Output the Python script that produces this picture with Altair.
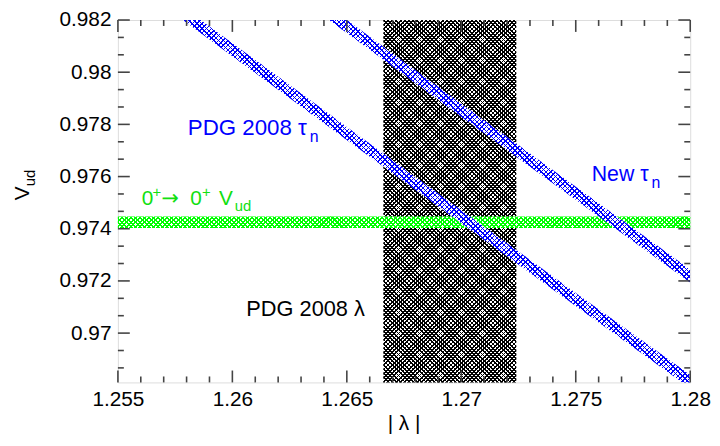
import math
import altair as alt
import pandas as pd

# ---------------- data ----------------
lam = [1.255, 1.26, 1.265, 1.27, 1.275, 1.28]
# PDG 2008 tau_n band (lower / upper edge of V_ud)
pdg_lo = [0.98383, 0.98061, 0.97740, 0.97421, 0.97104, 0.96789]
pdg_hi = [0.98433, 0.98111, 0.97790, 0.97471, 0.97154, 0.96839]
# New tau_n band
new_lo = [0.98795, 0.98471, 0.98150, 0.97829, 0.97511, 0.97194]
new_hi = [0.98845, 0.98521, 0.98200, 0.97879, 0.97561, 0.97244]
# PDG 2008 lambda band
lam_band = [1.2666, 1.2724]
# 0+ -> 0+ Vud band
vud_band = [0.97403, 0.97447]

x_dom = [1.255, 1.28]
y_dom = [0.96811, 0.982]

x_major = [1.255, 1.26, 1.265, 1.27, 1.275, 1.28]
x_minor = [1.256, 1.257, 1.258, 1.259, 1.261, 1.262, 1.263, 1.264,
           1.266, 1.267, 1.268, 1.269, 1.271, 1.272, 1.273, 1.274,
           1.276, 1.277, 1.278, 1.279]
y_major = [0.97, 0.972, 0.974, 0.976, 0.978, 0.98, 0.982]
y_minor = [0.968667, 0.969333, 0.970667, 0.971333, 0.972667, 0.973333,
           0.974667, 0.975333, 0.976667, 0.977333, 0.978667, 0.979333,
           0.980667, 0.981333]

# ---------------- layout ----------------
W, H = 578, 366
FONT = "Liberation Sans"
XSPAN = x_dom[1] - x_dom[0]
YSPAN = y_dom[1] - y_dom[0]

xs = alt.Scale(domain=x_dom, nice=False, zero=False)
ys = alt.Scale(domain=y_dom, nice=False, zero=False)

x_axis = alt.Axis(values=x_major, format="~g", labelFontSize=21, labelFont=FONT,
                  labelColor="black", ticks=False, tickSize=0, domain=False, grid=False,
                  labelPadding=6, labelFlush=False, labelOverlap=False, title=None)
y_axis = alt.Axis(values=y_major, format="~g", labelFontSize=21, labelFont=FONT,
                  labelColor="black", ticks=False, tickSize=0, domain=False, grid=False,
                  labelPadding=7, labelOverlap=False, title=None)


# ---------------- hatch fills (cross-hatch via striped gradients) ----------------
def hatch(w, h, period, duty, color, gap, direction):
    dt = period * math.sqrt(2) / (w + h)
    stops = []
    k = 0
    while k * dt < 1:
        a = k * dt
        b = min(a + duty * dt, 1)
        c = min((k + 1) * dt, 1)
        stops += [alt.GradientStop(offset=a, color=color),
                  alt.GradientStop(offset=b, color=color),
                  alt.GradientStop(offset=b, color=gap),
                  alt.GradientStop(offset=c, color=gap)]
        k += 1
    s = (w + h) / (w * w + h * h)
    if direction == 1:
        return alt.LinearGradient(gradient="linear", stops=stops,
                                  x1=0, y1=0, x2=w * s, y2=h * s)
    return alt.LinearGradient(gradient="linear", stops=stops,
                              x1=0, y1=1, x2=w * s, y2=1 - h * s)


df_lam = pd.DataFrame({"x0": [lam_band[0]], "x1": [lam_band[1]],
                       "y0": [y_dom[0]], "y1": [y_dom[1]]})
df_vud = pd.DataFrame({"x0": [x_dom[0]], "x1": [x_dom[1]],
                       "y0": [vud_band[0]], "y1": [vud_band[1]]})
df_pdg = pd.DataFrame({"lam": lam, "lo": pdg_lo, "hi": pdg_hi})
df_new = pd.DataFrame({"lam": lam, "lo": new_lo, "hi": new_hi})

# black lambda band
bw = (lam_band[1] - lam_band[0]) / XSPAN * W
bh = H
black1 = alt.Chart(df_lam).mark_rect(
    fill=hatch(bw, bh, 3.0, 0.42, "#000000", "#ffffff", 1)).encode(
    x=alt.X("x0:Q", scale=xs, axis=x_axis), x2="x1",
    y=alt.Y("y0:Q", scale=ys, axis=y_axis), y2="y1")
black2 = alt.Chart(df_lam).mark_rect(
    fill=hatch(bw, bh, 3.0, 0.42, "#000000", "transparent", 2)).encode(
    x=alt.X("x0:Q", scale=xs), x2="x1",
    y=alt.Y("y0:Q", scale=ys), y2="y1")

# green Vud band
gw = W
gh = (vud_band[1] - vud_band[0]) / YSPAN * H
GREEN = "#00ff00"
green1 = alt.Chart(df_vud).mark_rect(
    fill=hatch(gw, gh, 3.2, 0.45, GREEN, "#ffffff", 1)).encode(
    x=alt.X("x0:Q", scale=xs), x2="x1",
    y=alt.Y("y0:Q", scale=ys), y2="y1")
green2 = alt.Chart(df_vud).mark_rect(
    fill=hatch(gw, gh, 3.2, 0.45, GREEN, "transparent", 2)).encode(
    x=alt.X("x0:Q", scale=xs), x2="x1",
    y=alt.Y("y0:Q", scale=ys), y2="y1")

# blue tau_n bands
BLUE = "#0000ff"


def band(df, lo, hi):
    w = W
    h = (max(hi) - min(lo)) / YSPAN * H
    layers = []
    for d, gap in ((1, "#ffffff"), (2, "transparent")):
        layers.append(alt.Chart(df).mark_area(
            fill=hatch(w, h, 3.4, 0.32, BLUE, gap, d), clip=True, interpolate="linear").encode(
            x=alt.X("lam:Q", scale=xs),
            y=alt.Y("lo:Q", scale=ys), y2="hi"))
    return layers[0] + layers[1]


pdg = band(df_pdg, pdg_lo, pdg_hi)
new = band(df_new, new_lo, new_hi)

# ---------------- inward ticks ----------------
TICK = "#444444"
dxM = pd.DataFrame({"v": x_major})
dxm = pd.DataFrame({"v": x_minor})
dyM = pd.DataFrame({"v": y_major})
dym = pd.DataFrame({"v": y_minor})


def xticks(df, L):
    b = alt.Chart(df).mark_rule(color=TICK, strokeWidth=1.6)
    bot = b.encode(x=alt.X("v:Q", scale=xs), y=alt.value(H), y2=alt.value(H - L))
    top = b.encode(x=alt.X("v:Q", scale=xs), y=alt.value(0), y2=alt.value(L))
    return bot + top


def yticks(df, L):
    b = alt.Chart(df).mark_rule(color=TICK, strokeWidth=1.6)
    lft = b.encode(y=alt.Y("v:Q", scale=ys), x=alt.value(0), x2=alt.value(L))
    rgt = b.encode(y=alt.Y("v:Q", scale=ys), x=alt.value(W), x2=alt.value(W - L))
    return lft + rgt


ticks = xticks(dxM, 12) + xticks(dxm, 6) + yticks(dyM, 12) + yticks(dym, 6)


# ---------------- annotations ----------------
def label(x, y, main, sub, color, size, subsize, dx, dy):
    d = pd.DataFrame({"x": [x], "y": [y]})
    m = alt.Chart(d).mark_text(text=main, align="right", baseline="alphabetic",
                               font=FONT, fontSize=size, color=color).encode(
        x=alt.X("x:Q", scale=xs), y=alt.Y("y:Q", scale=ys))
    s = alt.Chart(d).mark_text(text=sub, align="left", baseline="alphabetic",
                               font=FONT, fontSize=subsize, color=color, dx=dx, dy=dy).encode(
        x=alt.X("x:Q", scale=xs), y=alt.Y("y:Q", scale=ys))
    return m + s


lab_pdg = label(1.26325, 0.97759, "PDG 2008 τ", "n", "#0000ff", 22.5, 16, 3, 7)
lab_new = label(1.27818, 0.97582, "New τ", "n", "#0000ff", 21.5, 16, 3, 7)

# "0+ -> 0+ V_ud" built from pieces (text, dx, dy, size, font)
GTXT = "#11e011"
vud_pieces = [("0", 0, 0, 21, FONT), ("+", 11, -8, 15, FONT),
              ("→", 20, 0, 21, "DejaVu Sans"), ("0", 49, 0, 21, FONT),
              ("+", 61, -8, 15, FONT), ("V", 78, 0, 21, FONT), ("ud", 94, 6, 15, FONT)]
d_vud = pd.DataFrame({"x": [1.25604], "y": [0.97490]})
lab_vud = alt.layer(*[
    alt.Chart(d_vud).mark_text(text=t, align="left", baseline="alphabetic", font=f,
                               fontSize=fs, color=GTXT, dx=dx, dy=dy).encode(
        x=alt.X("x:Q", scale=xs), y=alt.Y("y:Q", scale=ys))
    for t, dx, dy, fs, f in vud_pieces])

d_lam = pd.DataFrame({"x": [1.26320], "y": [0.97065]})
lab_lam = alt.Chart(d_lam).mark_text(text="PDG 2008 λ", align="center", baseline="alphabetic",
                                     font=FONT, fontSize=22, color="black").encode(
    x=alt.X("x:Q", scale=xs), y=alt.Y("y:Q", scale=ys))

# axis titles
d0 = pd.DataFrame({"k": [0]})
xtitle = alt.Chart(d0).mark_text(text="| λ |", align="center", baseline="alphabetic",
                                 font=FONT, fontSize=21, color="black").encode(
    x=alt.value(W / 2), y=alt.value(H + 48))
ytitle_v = alt.Chart(d0).mark_text(text="V", align="right", baseline="alphabetic", angle=270,
                                   font=FONT, fontSize=21, color="black").encode(
    x=alt.value(-90), y=alt.value(168))
ytitle_s = alt.Chart(d0).mark_text(text="ud", align="left", baseline="alphabetic", angle=270,
                                   font=FONT, fontSize=15, color="black").encode(
    x=alt.value(-84), y=alt.value(168))

chart = alt.layer(
    black1, black2, green1, green2, pdg, new, ticks,
    lab_pdg, lab_new, lab_vud, lab_lam, xtitle, ytitle_v, ytitle_s
).properties(
    width=W, height=H,
    autosize=alt.AutoSizeParams(type="none"),
    padding={"left": 111, "top": 10, "right": 22, "bottom": 54},
).configure_view(stroke="black", strokeWidth=2).configure(background="white")

chart.save("out.html", embed_options={"renderer": "svg", "actions": False})
